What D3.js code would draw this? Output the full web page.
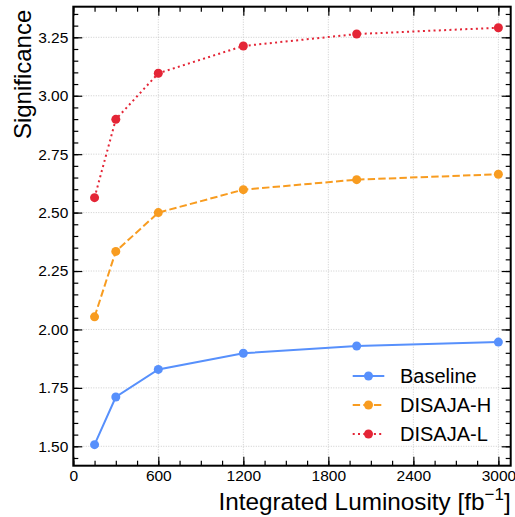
<!DOCTYPE html>
<html><head><meta charset="utf-8">
<script src="https://cdn.jsdelivr.net/npm/d3@7"></script>
<style>body{margin:0;background:#fff}svg{display:block}text{font-family:"Liberation Sans",Arial,sans-serif;fill:#000}</style>
</head><body><svg id="c" width="515" height="517"></svg>
<script>
const lumi = [150, 300, 600, 1200, 2000, 3000];
const baseline = [1.507, 1.711, 1.829, 1.898, 1.929, 1.946];
const disajaH = [2.054, 2.334, 2.500, 2.598, 2.641, 2.664];
const disajaL = [2.564, 2.899, 3.096, 3.213, 3.264, 3.291];
const seriesNames = ["Baseline", "DISAJA-H", "DISAJA-L"];
const xTicks = [0, 600, 1200, 1800, 2400, 3000];
const yTicks = [1.50, 1.75, 2.00, 2.25, 2.50, 2.75, 3.00, 3.25];

const colors = ["#5790fc", "#f89c20", "#e42536"];
const dashes = [null, "7.4,3.2", "2,3.3"];
const allSeries = [baseline, disajaH, disajaL];

const svg = d3.select("#c");
const L = 73.3, R = 510.7, T = 6.7, B = 465.7;
const x = d3.scaleLinear().domain([0, 3087]).range([L, R]);
const y = d3.scaleLinear().domain([1.417, 3.381]).range([B, T]);

// grid
const g = svg.append("g");
g.selectAll(".gx").data(xTicks.filter(d => d > 0)).enter().append("line")
  .attr("x1", d => x(d)).attr("x2", d => x(d)).attr("y1", T).attr("y2", B)
  .attr("stroke", "#c0c0c0").attr("stroke-width", 0.8).attr("stroke-dasharray", "1,1.5");
g.selectAll(".gy").data(yTicks).enter().append("line")
  .attr("y1", d => y(d)).attr("y2", d => y(d)).attr("x1", L).attr("x2", R)
  .attr("stroke", "#c0c0c0").attr("stroke-width", 0.8).attr("stroke-dasharray", "1,1.5");

// axes with inward ticks
const xMinor = d3.range(0, 3087, 150);
const yMinor = d3.range(1.45, 3.381, 0.05);
function axes(sel) {
  sel.append("g").attr("transform", `translate(0,${B})`)
    .call(d3.axisBottom(x).tickValues(xTicks).tickSize(-9).tickPadding(4).tickFormat(d3.format("d")));
  sel.append("g").attr("transform", `translate(0,${B})`)
    .call(d3.axisBottom(x).tickValues(xMinor).tickSize(-5).tickFormat(""));
  sel.append("g").attr("transform", `translate(0,${T})`)
    .call(d3.axisTop(x).tickValues(xTicks).tickSize(-9).tickFormat(""));
  sel.append("g").attr("transform", `translate(0,${T})`)
    .call(d3.axisTop(x).tickValues(xMinor).tickSize(-5).tickFormat(""));
  sel.append("g").attr("transform", `translate(${L},0)`)
    .call(d3.axisLeft(y).tickValues(yTicks).tickSize(-9).tickPadding(5).tickFormat(d3.format(".2f")));
  sel.append("g").attr("transform", `translate(${L},0)`)
    .call(d3.axisLeft(y).tickValues(yMinor).tickSize(-5).tickFormat(""));
  sel.append("g").attr("transform", `translate(${R},0)`)
    .call(d3.axisRight(y).tickValues(yTicks).tickSize(-9).tickFormat(""));
  sel.append("g").attr("transform", `translate(${R},0)`)
    .call(d3.axisRight(y).tickValues(yMinor).tickSize(-5).tickFormat(""));
  sel.selectAll(".domain").remove();
  sel.selectAll(".tick line").attr("stroke", "#000").attr("stroke-width", 1.2);
  sel.selectAll(".tick text").attr("font-size", "15.5px").attr("font-family", '"Liberation Sans",Arial,sans-serif').attr("fill", "#000");
}
const ax = svg.append("g");
axes(ax);
svg.append("rect").attr("x", L).attr("y", T).attr("width", R - L).attr("height", B - T)
  .attr("fill", "none").attr("stroke", "#000").attr("stroke-width", 2);

// series
const line = d3.line().x((d, i) => x(lumi[i])).y(d => y(d));
allSeries.forEach((s, k) => {
  svg.append("path").datum(s).attr("d", line).attr("fill", "none")
    .attr("stroke", colors[k]).attr("stroke-width", 2)
    .attr("stroke-dasharray", dashes[k]);
  svg.selectAll(null).data(s).enter().append("circle")
    .attr("cx", (d, i) => x(lumi[i])).attr("cy", d => y(d)).attr("r", 4.5).attr("fill", colors[k]);
});

// legend
const lg = svg.append("g");
seriesNames.forEach((n, k) => {
  const yy = 376 + k * 29;
  lg.append("line").attr("x1", 352.7).attr("x2", 384.3).attr("y1", yy).attr("y2", yy)
    .attr("stroke", colors[k]).attr("stroke-width", 2).attr("stroke-dasharray", dashes[k]);
  lg.append("circle").attr("cx", 368.5).attr("cy", yy).attr("r", 4.5).attr("fill", colors[k]);
  lg.append("text").attr("x", 400).attr("y", yy + 7).attr("font-size", "20px").text(n);
});

// axis labels
const xl = svg.append("text").attr("x", R).attr("y", 509.5).attr("text-anchor", "end").attr("font-size", "24.3px");
xl.append("tspan").text("Integrated Luminosity [fb");
xl.append("tspan").attr("dy", -9.5).attr("font-size", "17px").text("\u22121");
xl.append("tspan").attr("dy", 9.5).text("]");
svg.append("text").attr("transform", `translate(31,${T + 3}) rotate(-90)`).attr("text-anchor", "end")
  .attr("font-size", "24px").text("Significance");
</script></body></html>
